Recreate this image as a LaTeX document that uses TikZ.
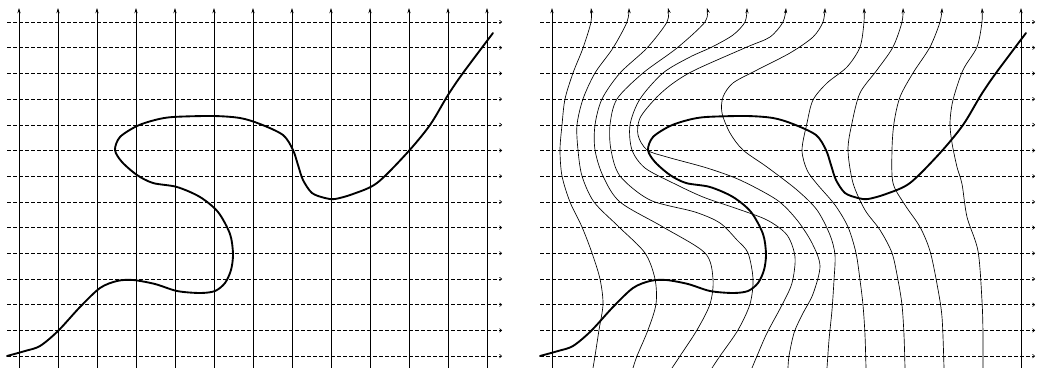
\documentclass[tikz,border=0pt]{standalone}
\usetikzlibrary{arrows.meta}
\begin{document}
\begin{tikzpicture}[x=0.75pt,y=-0.75pt,
    vline/.style={line width=0.5pt,-{Stealth[length=4pt,width=2.4pt]}},
    hline/.style={line width=0.45pt,dash pattern=on 3pt off 1.5pt,-{To[length=2pt,width=3pt]}},
    contour/.style={line width=1.4pt,line join=round,line cap=round}]
    \useasboundingbox (0,0) rectangle (1040,368);

    % dashed rows, both panels
    \foreach \s in {0,533}
      \foreach \j in {0,...,13}
        \draw[hline] ({7+\s},{22+25.7*\j}) -- ({502+\s},{22+25.7*\j});

    % left panel: straight columns
    \foreach \i in {0,...,12}
      \draw[vline] ({19+39*\i},368) -- ({19+39*\i},8);

    % right panel: outer columns stay straight
    \draw[vline] (552,368) -- (552,8);
    \draw[vline] (1021,368) -- (1021,8);

    % right panel: warped columns
    \draw[vline] plot[smooth] coordinates {(593,368) (595,356) (599,330) (603,304) (600,279) (592,253) (582,227) (570,202) (562,176) (560,150) (562,125) (565,99) (573,73) (583,48) (591,22) (591,8)};
    \draw[vline] plot[smooth] coordinates {(633,368) (637,356) (648,330) (656,304) (655,279) (645,253) (619,227) (594,202) (582,176) (578,150) (577,125) (583,99) (595,73) (613,48) (627,22) (629,8)};
    \draw[vline] plot[smooth] coordinates {(672,368) (680,356) (697,330) (710,304) (713,279) (705,253) (663,227) (620,202) (603,176) (595,150) (595,125) (602,99) (620,73) (647,48) (667,22) (668,8)};
    \draw[vline] plot[smooth] coordinates {(712,368) (720,356) (738,330) (750,304) (753,279) (748,253) (737,240) (720,223) (695,212) (650,200) (620,176) (611,150) (610,125) (617,99) (643,73) (677,48) (705,22) (707,8)};
    \draw[vline] plot[smooth] coordinates {(752,368) (757,356) (767,333) (782,305) (792,283) (795,257) (787,235) (767,220) (735,208) (703,197) (673,183) (645,168) (632,150) (630,125) (640,99) (663,73) (690,57) (712,47) (733,35) (745,22) (747,8)};
    \draw[vline] plot[smooth] coordinates {(788,368) (789,356) (794,333) (802,315) (813,294) (820,266) (812,243) (797,220) (777,200) (740,180) (707,168) (667,157) (647,150) (638,135) (640,118) (655,99) (672,84) (695,70) (747,47) (770,37) (783,22) (786,8)};
    \draw[vline] plot[smooth] coordinates {(827,368) (829,340) (832,310) (834,280) (835,255) (830,235) (817,210) (797,190) (767,167) (743,150) (730,133) (722,113) (723,97) (733,83) (757,70) (790,53) (813,37) (823,22) (825,8)};
    \draw[vline] plot[smooth] coordinates {(866,368) (865,335) (863,305) (860,280) (856,253) (848,227) (835,205) (817,184) (807,170) (802,150) (807,123) (813,100) (827,83) (847,67) (860,47) (864,22) (864,8)};
    \draw[vline] plot[smooth] coordinates {(905,368) (904,335) (902,305) (898,280) (892,253) (880,230) (865,210) (853,183) (848,150) (852,123) (860,93) (877,70) (893,47) (902,22) (903,8)};
    \draw[vline] plot[smooth] coordinates {(944,368) (942,317) (937,284) (930,251) (920,227) (905,205) (893,183) (892,150) (894,123) (900,97) (913,73) (930,47) (940,22) (942,8)};
    \draw[vline] plot[smooth] coordinates {(983,368) (983,334) (982,301) (978,251) (967,217) (962,184) (957,167) (952,143) (950,123) (953,100) (963,70) (977,47) (982,22) (982,8)};

    % the shape, same in both panels
    \foreach \s in {0,533}
      \draw[contour,shift={(\s,0)}] plot[smooth] coordinates {(7,356) (25,351) (40,346) (58,331) (80,307) (100,288) (117,281) (133,280) (155,284) (177,291) (200,293) (215,291) (225,283) (231,270) (233,254) (230,234) (218,212) (200,197) (177,187) (153,183) (137,175) (122,162) (115,150) (120,137) (137,126) (155,120) (173,117) (213,116) (240,118) (260,124) (283,135) (293,150) (298,165) (303,180) (312,193) (325,198) (335,199) (353,194) (377,183) (407,153) (430,125) (448,95) (463,73) (493,33)};
\end{tikzpicture}
\end{document}
